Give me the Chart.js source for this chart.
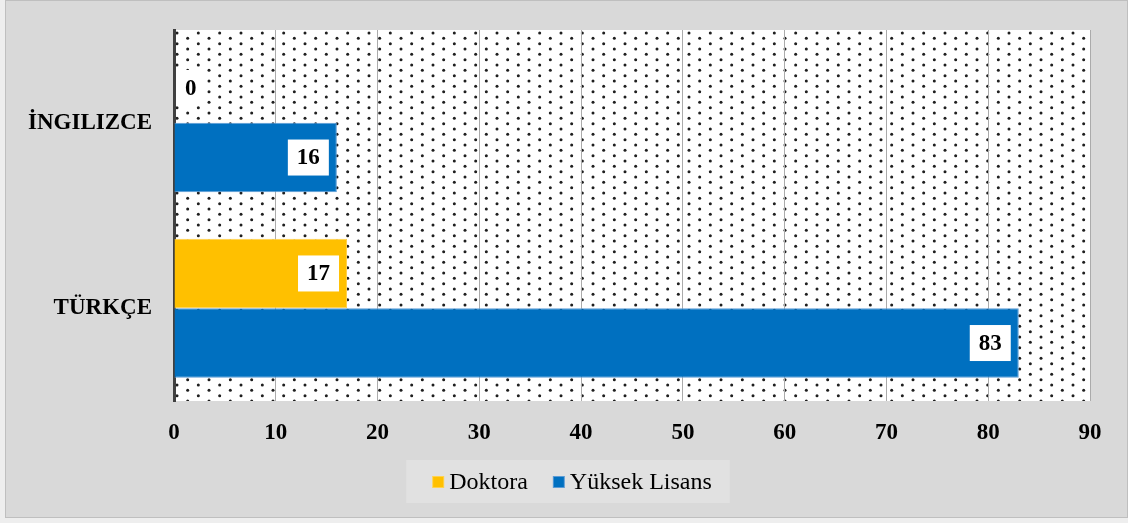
<!DOCTYPE html>
<html>
<head>
<meta charset="utf-8">
<script src="https://cdn.jsdelivr.net/npm/chart.js@4"></script>
<style>
  html, body { margin: 0; padding: 0; background: #eeeeee; }
</style>
</head>
<body>
<canvas id="chart" width="1128" height="523"></canvas>
<script>
const categories = ['İNGILIZCE', 'TÜRKÇE'];
const seriesNames = ['Doktora', 'Yüksek Lisans'];
const doktora = [0, 17];
const yuksekLisans = [16, 83];
const xTicks = [0, 10, 20, 30, 40, 50, 60, 70, 80, 90];
const seriesColors = ['#FFC000', '#0070C0'];
const seriesEdges = ['#ffd24d', '#5b9bd5'];

const serif = '"Liberation Serif", "Times New Roman", serif';

// little staggered dot tile for the plot background
function makeDotTile() {
    const c = document.createElement('canvas');
    c.width = 64;
    c.height = 32;
    const g = c.getContext('2d');
    g.fillStyle = '#1e1e1e';
    const step = 32 / 3;
    for (let i = 0; i < 6; i++) {
        for (let j = 0; j < 3; j++) {
            const x = i * step + 3;
            const y = j * step + (i % 2) * step / 2 + 3;
            g.beginPath();
            g.arc(x, y, 1.5, 0, Math.PI * 2);
            g.fill();
        }
    }
    return c;
}
const dotTile = makeDotTile();

const backgroundPlugin = {
    id: 'background',
    beforeDraw(chart) {
        const { ctx, chartArea: a, width, height } = chart;
        ctx.save();
        ctx.fillStyle = '#eeeeee';
        ctx.fillRect(0, 0, width, height);
        ctx.fillStyle = '#d9d9d9';
        ctx.fillRect(6, 1, width - 7, 516);
        ctx.strokeStyle = '#bfbfbf';
        ctx.lineWidth = 1;
        ctx.strokeRect(5.5, 0.5, width - 6, 517);
        ctx.fillStyle = '#ffffff';
        ctx.fillRect(a.left, a.top, a.width, a.height);
        ctx.translate(a.left, a.top);
        ctx.fillStyle = ctx.createPattern(dotTile, 'repeat');
        ctx.fillRect(0, 0, a.width, a.height);
        ctx.restore();
    }
};

const valueLabelPlugin = {
    id: 'valueLabels',
    afterDatasetsDraw(chart) {
        const ctx = chart.ctx;
        ctx.save();
        ctx.font = 'bold 23px ' + serif;
        ctx.textAlign = 'center';
        ctx.textBaseline = 'middle';
        chart.data.datasets.forEach((ds, i) => {
            chart.getDatasetMeta(i).data.forEach((bar, j) => {
                const text = String(ds.data[j]);
                const w = ctx.measureText(text).width + 18;
                const h = 36;
                let left = bar.x - 8 - w;
                if (left < bar.base + 2) left = bar.base + 2;
                ctx.fillStyle = '#ffffff';
                ctx.fillRect(left, bar.y - h / 2, w, h);
                ctx.fillStyle = '#000000';
                ctx.fillText(text, left + w / 2, bar.y + 1);
            });
        });
        ctx.restore();
    }
};

const legendPlugin = {
    id: 'boxLegend',
    afterDraw(chart) {
        const ctx = chart.ctx;
        ctx.save();
        ctx.font = '24px ' + serif;
        const sq = 12;
        const gap = 5;
        const between = 25;
        const items = chart.data.datasets.map(ds => ({
            text: ds.label,
            color: ds.backgroundColor,
            edge: ds.borderColor,
            w: sq + gap + ctx.measureText(ds.label).width
        }));
        const total = items.reduce((s, it) => s + it.w, 0) + between * (items.length - 1);
        let x = 572 - total / 2;
        const cy = 482;
        ctx.fillStyle = '#e1e1e1';
        ctx.fillRect(x - 26, 460, total + 44, 43);
        ctx.textBaseline = 'middle';
        ctx.textAlign = 'left';
        items.forEach(it => {
            ctx.fillStyle = it.edge;
            ctx.fillRect(x, cy - sq / 2, sq, sq);
            ctx.fillStyle = it.color;
            ctx.fillRect(x + 1, cy - sq / 2 + 1, sq - 2, sq - 2);
            ctx.fillStyle = '#000000';
            ctx.fillText(it.text, x + sq + gap, cy + 1);
            x += it.w + between;
        });
        ctx.restore();
    }
};

const ctx = document.getElementById('chart').getContext('2d');
const chart = new Chart(ctx, {
    type: 'bar',
    data: {
        labels: categories,
        datasets: [{
            label: seriesNames[0],
            data: doktora,
            backgroundColor: seriesColors[0],
            borderColor: seriesEdges[0],
            borderWidth: 1,
            categoryPercentage: 0.75,
            barPercentage: 1
        }, {
            label: seriesNames[1],
            data: yuksekLisans,
            backgroundColor: seriesColors[1],
            borderColor: seriesEdges[1],
            borderWidth: 1,
            categoryPercentage: 0.75,
            barPercentage: 1
        }]
    },
    options: {
        indexAxis: 'y',
        responsive: false,
        animation: false,
        layout: {
            padding: { left: 0, right: 38, top: 30, bottom: 77 }
        },
        plugins: {
            legend: { display: false },
            tooltip: { enabled: false }
        },
        scales: {
            x: {
                min: xTicks[0],
                max: xTicks[xTicks.length - 1],
                afterBuildTicks: scale => {
                    scale.ticks = xTicks.map(v => ({ value: v }));
                },
                ticks: {
                    color: '#000000',
                    font: { family: serif, size: 23, weight: 'bold' },
                    padding: 18,
                    maxRotation: 0
                },
                grid: { color: '#ababab', drawTicks: false },
                border: { display: false },
                afterFit: scale => { scale.height = 45; }
            },
            y: {
                ticks: {
                    color: '#000000',
                    font: { family: serif, size: 23, weight: 'bold' },
                    padding: 22
                },
                grid: { display: false, drawTicks: false },
                border: { display: true, color: '#404040', width: 3 },
                afterFit: scale => {
                    scale.width = 174;
                    scale.paddingTop = 0;
                    scale.paddingBottom = 0;
                }
            }
        }
    },
    plugins: [backgroundPlugin, valueLabelPlugin, legendPlugin]
});
</script>
</body>
</html>
